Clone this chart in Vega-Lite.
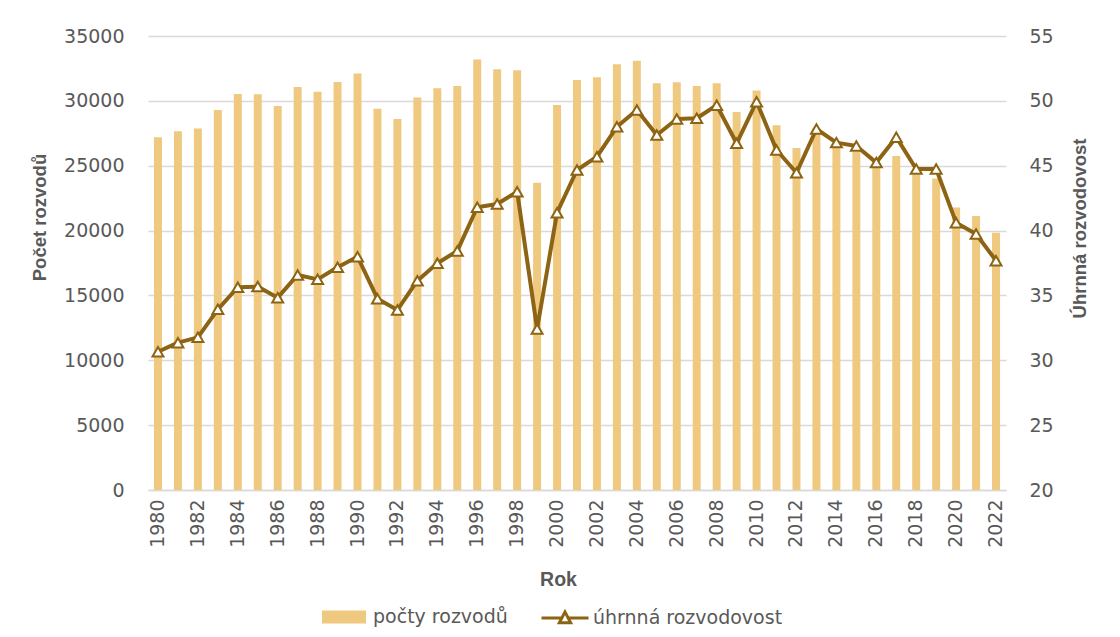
{
  "$schema": "https://vega.github.io/schema/vega-lite/v6.json",
  "width": 858,
  "height": 454,
  "autosize": {"type": "none"},
  "padding": {"left": 148, "top": 36, "right": 114, "bottom": 147},
  "background": "white",
  "config": {
    "view": {"stroke": null},
    "font": "DejaVu Sans",
    "axis": {"labelFont": "DejaVu Sans", "labelFontSize": 19, "labelColor": "#595959", "titleFont": "Liberation Sans", "titleFontWeight": "bold", "titleFontSize": 18.5, "titleColor": "#595959", "ticks": false, "domain": false, "gridColor": "#D9D9D9", "gridWidth": 1.3},
    "legend": {"labelFont": "DejaVu Sans", "labelFontSize": 19, "labelColor": "#595959", "padding": 0, "labelLimit": 0}
  },
  "data": {"values": [
    {"Rok": 1980, "pocet": 27200, "uhrnna": 30.66},
    {"Rok": 1981, "pocet": 27650, "uhrnna": 31.36},
    {"Rok": 1982, "pocet": 27860, "uhrnna": 31.77},
    {"Rok": 1983, "pocet": 29300, "uhrnna": 33.93},
    {"Rok": 1984, "pocet": 30530, "uhrnna": 35.63},
    {"Rok": 1985, "pocet": 30500, "uhrnna": 35.68},
    {"Rok": 1986, "pocet": 29600, "uhrnna": 34.83},
    {"Rok": 1987, "pocet": 31070, "uhrnna": 36.58},
    {"Rok": 1988, "pocet": 30700, "uhrnna": 36.24},
    {"Rok": 1989, "pocet": 31460, "uhrnna": 37.17},
    {"Rok": 1990, "pocet": 32100, "uhrnna": 37.99},
    {"Rok": 1991, "pocet": 29400, "uhrnna": 34.75},
    {"Rok": 1992, "pocet": 28600, "uhrnna": 33.88},
    {"Rok": 1993, "pocet": 30250, "uhrnna": 36.14},
    {"Rok": 1994, "pocet": 30970, "uhrnna": 37.48},
    {"Rok": 1995, "pocet": 31150, "uhrnna": 38.43},
    {"Rok": 1996, "pocet": 33180, "uhrnna": 41.8},
    {"Rok": 1997, "pocet": 32430, "uhrnna": 42.05},
    {"Rok": 1998, "pocet": 32360, "uhrnna": 43.0},
    {"Rok": 1999, "pocet": 23690, "uhrnna": 32.41},
    {"Rok": 2000, "pocet": 29680, "uhrnna": 41.38},
    {"Rok": 2001, "pocet": 31610, "uhrnna": 44.67},
    {"Rok": 2002, "pocet": 31820, "uhrnna": 45.7},
    {"Rok": 2003, "pocet": 32820, "uhrnna": 48.0},
    {"Rok": 2004, "pocet": 33100, "uhrnna": 49.3},
    {"Rok": 2005, "pocet": 31360, "uhrnna": 47.37},
    {"Rok": 2006, "pocet": 31430, "uhrnna": 48.6},
    {"Rok": 2007, "pocet": 31150, "uhrnna": 48.66},
    {"Rok": 2008, "pocet": 31360, "uhrnna": 49.66},
    {"Rok": 2009, "pocet": 29140, "uhrnna": 46.73},
    {"Rok": 2010, "pocet": 30790, "uhrnna": 49.94},
    {"Rok": 2011, "pocet": 28120, "uhrnna": 46.21},
    {"Rok": 2012, "pocet": 26370, "uhrnna": 44.46},
    {"Rok": 2013, "pocet": 27900, "uhrnna": 47.83},
    {"Rok": 2014, "pocet": 26760, "uhrnna": 46.78},
    {"Rok": 2015, "pocet": 26080, "uhrnna": 46.52},
    {"Rok": 2016, "pocet": 25000, "uhrnna": 45.24},
    {"Rok": 2017, "pocet": 25750, "uhrnna": 47.2},
    {"Rok": 2018, "pocet": 24310, "uhrnna": 44.75},
    {"Rok": 2019, "pocet": 24020, "uhrnna": 44.75},
    {"Rok": 2020, "pocet": 21770, "uhrnna": 40.61},
    {"Rok": 2021, "pocet": 21130, "uhrnna": 39.74},
    {"Rok": 2022, "pocet": 19840, "uhrnna": 37.68}
  ]},
  "encoding": {
    "x": {
      "field": "Rok", "type": "ordinal",
      "scale": {"paddingInner": 0.6, "paddingOuter": 0.3},
      "axis": {"title": "Rok", "labelAngle": -90, "labelPadding": 9, "domain": true, "domainColor": "#D9D9D9", "domainWidth": 1.3, "titlePadding": 23, "titleFontSize": 19.5, "titleX": 410, "labelExpr": "datum.value % 2 == 0 ? datum.label : ''"}
    }
  },
  "layer": [
    {
      "mark": {"type": "bar"},
      "encoding": {
        "y": {"field": "pocet", "type": "quantitative", "scale": {"domain": [0, 35000]},
          "axis": {"title": "Počet rozvodů", "values": [0, 5000, 10000, 15000, 20000, 25000, 30000, 35000], "format": "d", "labelPadding": 24, "titlePadding": 14, "titleY": 181, "grid": true}},
        "fill": {"datum": "počty rozvodů", "type": "nominal", "scale": {"range": ["#F0C980"]},
          "legend": {"title": null, "orient": "none", "legendX": 174, "legendY": 559, "symbolType": "M-1,-0.3H1V0.3H-1Z", "symbolSize": 1936, "symbolStrokeWidth": 0, "labelOffset": 7}}
      }
    },
    {
      "mark": {"type": "line", "strokeWidth": 4, "strokeJoin": "round"},
      "encoding": {
        "y": {"field": "uhrnna", "type": "quantitative", "scale": {"domain": [20, 55]},
          "axis": {"title": "Úhrnná rozvodovost", "orient": "right", "values": [20, 25, 30, 35, 40, 45, 50, 55], "labelPadding": 23, "titlePadding": 36, "titleAngle": -90, "titleY": 192, "grid": false}},
        "stroke": {"datum": "úhrnná rozvodovost", "type": "nominal", "scale": {"range": ["#8C6414"]},
          "legend": {"title": null, "orient": "none", "legendX": 392, "legendY": 557, "symbolType": "M-1,0H-0.14M0.14,0H1M-0.24,0.2L0,-0.26L0.24,0.2Z", "symbolSize": 2209, "symbolStrokeWidth": 3, "symbolFillColor": "white", "labelOffset": 3}}
      }
    },
    {
      "mark": {"type": "point", "shape": "triangle-up", "filled": true, "fill": "white", "stroke": "#8C6414", "strokeWidth": 2, "size": 120, "opacity": 1},
      "encoding": {
        "y": {"field": "uhrnna", "type": "quantitative", "scale": {"domain": [20, 55]}, "axis": null}
      }
    }
  ],
  "resolve": {"scale": {"y": "independent", "fill": "independent", "stroke": "independent"}}
}
